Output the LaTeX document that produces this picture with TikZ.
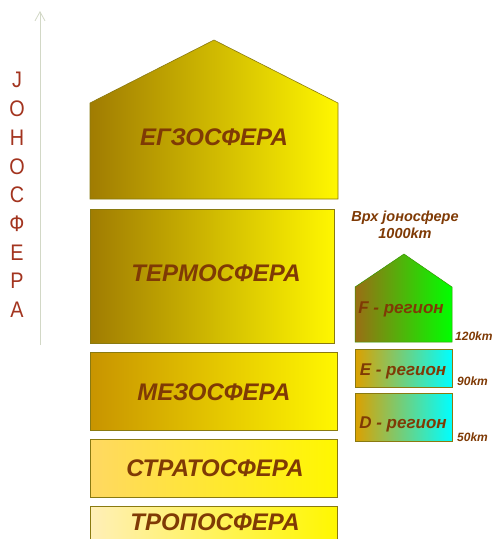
\documentclass[tikz,border=0pt]{standalone}
\usepackage{fontspec}
\setmainfont[Script=Cyrillic,Language=Serbian]{Liberation Sans}
\usetikzlibrary{arrows.meta}
\definecolor{txtbrown}{HTML}{7F3A05}
\definecolor{ionred}{HTML}{A3341F}
\definecolor{edgeol}{HTML}{8A7A10}
\definecolor{axisgray}{HTML}{D2D8C6}
\definecolor{exoleft}{HTML}{A07C02}
\definecolor{mesoleft}{HTML}{C89400}
\definecolor{stratleft}{HTML}{FFD862}
\definecolor{tropleft}{HTML}{FFEFB8}
\definecolor{layright}{HTML}{FFF700}
\definecolor{fleft}{HTML}{9A6E14}
\definecolor{eleft}{HTML}{DCA000}
\begin{document}
\begin{tikzpicture}[x=1pt,y=-1pt,
  layer/.style={draw=edgeol,line width=0.6pt},
  lbl/.style={text=txtbrown,font=\bfseries\itshape\fontsize{24}{26}\selectfont,inner sep=0pt},
  reg/.style={text=txtbrown,font=\bfseries\itshape\fontsize{17}{19}\selectfont,inner sep=0pt},
  km/.style={text=txtbrown,font=\bfseries\itshape\fontsize{12}{14}\selectfont,inner sep=0pt,anchor=west},
  ion/.style={text=ionred,font=\fontsize{22.5}{24}\selectfont,inner sep=0pt,xscale=0.88}]
\useasboundingbox (0,0) rectangle (495,539);
\fill[white] (0,0) rectangle (495,539);

% atmosphere layers
\shade[layer,left color=exoleft,right color=layright]
  (90,199) -- (90,103) -- (214,40) -- (338,103) -- (338,199) -- cycle;
\shade[layer,left color=exoleft,right color=layright]
  (90,209) rectangle (334,343);
\shade[layer,left color=mesoleft,right color=layright]
  (90,352) rectangle (337,430);
\shade[layer,left color=stratleft,right color=layright]
  (90,439) rectangle (337,497);
\shade[layer,left color=tropleft,right color=layright]
  (90,506) rectangle (337,545);

\node[lbl] (exo) at (214,137) {ЕГЗОСФЕРА};
\node[lbl] (thermo) at (216,273) {ТЕРМОСФЕРА};
\node[lbl] (meso) at (214,392) {МЕЗОСФЕРА};
\node[lbl] (strato) at (215,468) {СТРАТОСФЕРА};
\node[lbl] (tropo) at (215,522) {ТРОПОСФЕРА};

% ionosphere regions
\shade[draw=black!35!green!60!olive,line width=0.5pt,left color=fleft,right color=green]
  (355,342) -- (355,287) -- (404,254) -- (452,287) -- (452,342) -- cycle;
\shade[draw=edgeol,line width=0.5pt,left color=eleft,right color=cyan]
  (355,349) rectangle (452,387);
\shade[draw=edgeol,line width=0.5pt,left color=eleft,right color=cyan]
  (355,393) rectangle (452,441);

\node[reg] (fr) at (401,309) {F - регион};
\node[reg] (er) at (403,371) {E - регион};
\node[reg] (dr) at (403,424) {D - регион};

\node[text=txtbrown,font=\bfseries\itshape\fontsize{14.5}{17}\selectfont,align=center,inner sep=0pt]
  (top) at (405,225) {Врх јоносфере\\1000km};
\node[km] (k120) at (455,336) {120km};
\node[km] (k90) at (457,381) {90km};
\node[km] (k50) at (457,437) {50km};

% ionosphere axis
\coordinate (abot) at (40,345);
\coordinate (atop) at (40,11);
\draw[axisgray,line width=0.8pt,-{Straight Barb[length=9pt,width=10pt]}] (abot) -- (atop);
\foreach \l [count=\i from 0] in {Ј,О,Н,О,С,Ф,Е,Р,А}
  \node[ion] (ion\i) at (17,80+28.75*\i) {\l};
\end{tikzpicture}
\end{document}
